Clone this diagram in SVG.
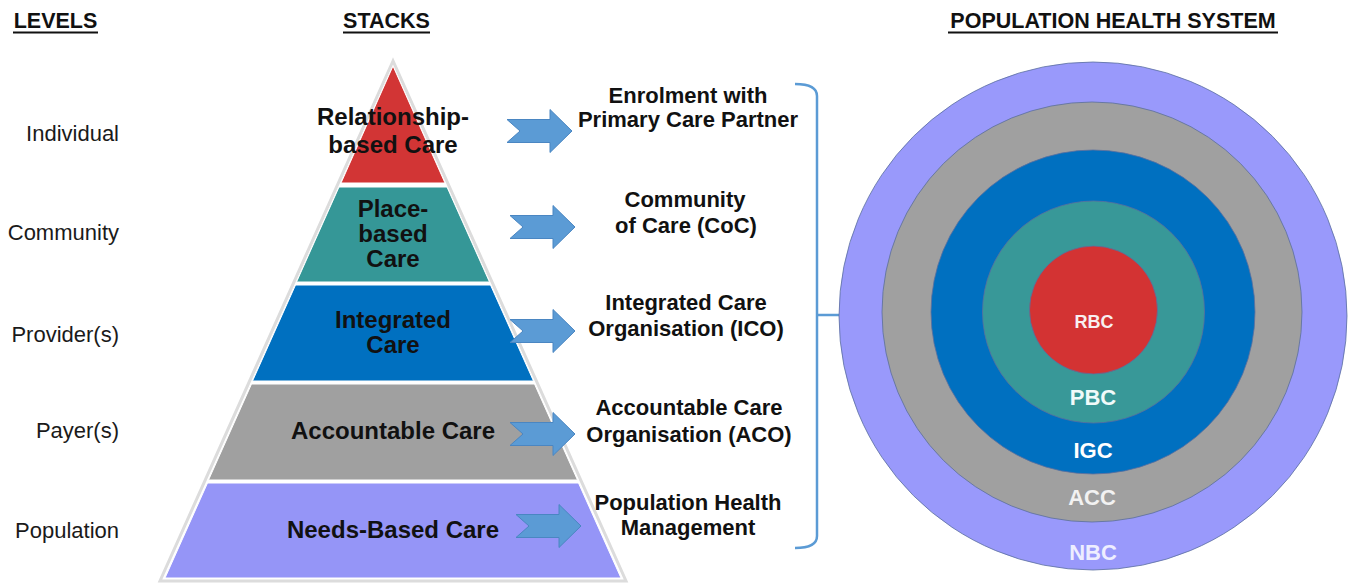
<svg xmlns="http://www.w3.org/2000/svg" width="1351" height="585" viewBox="0 0 1351 585">
<style>
.hdr{font-family:"Liberation Sans",Arial,sans-serif;font-weight:bold;font-size:21.5px;fill:#111;text-anchor:middle}
.lvl{font-family:"Liberation Sans",Arial,sans-serif;font-size:22px;fill:#1a1a1a;text-anchor:end}
.pt{font-family:"Liberation Sans",Arial,sans-serif;font-weight:bold;font-size:24px;fill:#111;text-anchor:middle}
.rt{font-family:"Liberation Sans",Arial,sans-serif;font-weight:bold;font-size:22px;fill:#111;text-anchor:middle}
.ct{font-family:"Liberation Sans",Arial,sans-serif;font-weight:bold;font-size:22px;text-anchor:middle}
.ul{stroke:#111;stroke-width:2}
.arrow{fill:#5B9BD5;stroke:#4A86C2;stroke-width:1}
.layer{stroke:#ffffff;stroke-width:1}
.ring{stroke:#5a6f9e;stroke-width:0.8}
.conn{fill:none;stroke:#5B9BD5;stroke-width:2.5;stroke-linejoin:round}
</style>
<defs>
<path id="arr" d="M0,-11.5 L43,-11.5 L43,-21.5 L65,0 L43,21.5 L43,11.5 L0,11.5 L13,0 Z"/>
</defs>
<rect width="1351" height="585" fill="#ffffff"/>

<g id="headers">
<text class="hdr" x="55.5" y="28">LEVELS</text>
<line class="ul" x1="13" y1="32.5" x2="98" y2="32.5"/>
<text class="hdr" x="386.5" y="28">STACKS</text>
<line class="ul" x1="343" y1="32.5" x2="430" y2="32.5"/>
<text class="hdr" x="1113" y="28">POPULATION HEALTH SYSTEM</text>
<line class="ul" x1="948" y1="32.5" x2="1278" y2="32.5"/>
</g>

<g id="levels">
<text class="lvl" x="119" y="141">Individual</text>
<text class="lvl" x="119" y="240">Community</text>
<text class="lvl" x="119" y="342">Provider(s)</text>
<text class="lvl" x="119" y="438">Payer(s)</text>
<text class="lvl" x="119" y="538">Population</text>
</g>

<g id="pyramid-outline">
<polygon points="393,61 160,581 626,581" fill="#ffffff" stroke="#dcdcdc" stroke-width="3"/>
</g>

<g id="rbc-layer">
<polygon class="layer" points="393,66 341,183 445,183" fill="#D23535"/>
<text class="pt" x="393" y="125">Relationship-</text>
<text class="pt" x="393" y="153">based Care</text>
</g>
<g id="pbc-layer">
<polygon class="layer" points="339,187 447,187 489.5,282 296.5,282" fill="#359797"/>
<text class="pt" x="393" y="217">Place-</text>
<text class="pt" x="393" y="242">based</text>
<text class="pt" x="393" y="267">Care</text>
</g>
<g id="igc-layer">
<polygon class="layer" points="295.5,285 490.5,285 533.5,381 252.5,381" fill="#0070C0"/>
<text class="pt" x="393" y="328">Integrated</text>
<text class="pt" x="393" y="353">Care</text>
</g>
<g id="acc-layer">
<polygon class="layer" points="251.5,384 534.5,384 577.5,480 208.5,480" fill="#A0A0A0"/>
<text class="pt" x="393" y="439">Accountable Care</text>
</g>
<g id="nbc-layer">
<polygon class="layer" points="207.5,483 578.5,483 621,578 165,578" fill="#9595F7"/>
<text class="pt" x="393" y="538">Needs-Based Care</text>
</g>

<g id="connectors">
<use href="#arr" class="arrow" transform="translate(507,131)"/>
<use href="#arr" class="arrow" transform="translate(510,227)"/>
<use href="#arr" class="arrow" transform="translate(510,331)"/>
<use href="#arr" class="arrow" transform="translate(510,434)"/>
<use href="#arr" class="arrow" transform="translate(516,526)"/>
<path class="conn" d="M795,84 Q817,84 817,96 L817,536 Q817,548 795,548"/>
<line class="conn" x1="817" y1="315" x2="852" y2="315"/>
</g>

<g id="label-enrolment">
<text class="rt" x="688" y="103">Enrolment with</text>
<text class="rt" x="688" y="127">Primary Care Partner</text>
</g>
<g id="label-coc">
<text class="rt" x="685" y="207">Community</text>
<text class="rt" x="686" y="233">of Care (CoC)</text>
</g>
<g id="label-ico">
<text class="rt" x="686" y="310">Integrated Care</text>
<text class="rt" x="686" y="336">Organisation (ICO)</text>
</g>
<g id="label-aco">
<text class="rt" x="689" y="415">Accountable Care</text>
<text class="rt" x="689" y="442">Organisation (ACO)</text>
</g>
<g id="label-phm">
<text class="rt" x="688" y="510">Population Health</text>
<text class="rt" x="688" y="535">Management</text>
</g>

<g id="circle-nbc">
<circle class="ring" cx="1093" cy="316" r="254" fill="#9999FB"/>
<text class="ct" x="1093" y="560" fill="#EEEEFF">NBC</text>
</g>
<g id="circle-acc">
<circle class="ring" cx="1092" cy="312" r="210" fill="#A0A0A0"/>
<text class="ct" x="1092" y="505" fill="#F2F2F2">ACC</text>
</g>
<g id="circle-igc">
<circle class="ring" cx="1093" cy="312" r="162" fill="#0070C0"/>
<text class="ct" x="1093" y="458" fill="#ffffff">IGC</text>
</g>
<g id="circle-pbc">
<circle class="ring" cx="1093.5" cy="312" r="111" fill="#389898"/>
<text class="ct" x="1093" y="405" fill="#F0FAFA">PBC</text>
</g>
<g id="circle-rbc">
<circle class="ring" cx="1093.5" cy="310" r="64" fill="#D33333"/>
<text class="ct" x="1094" y="328" fill="#F8F0F0" style="font-size:18px">RBC</text>
</g>
</svg>
